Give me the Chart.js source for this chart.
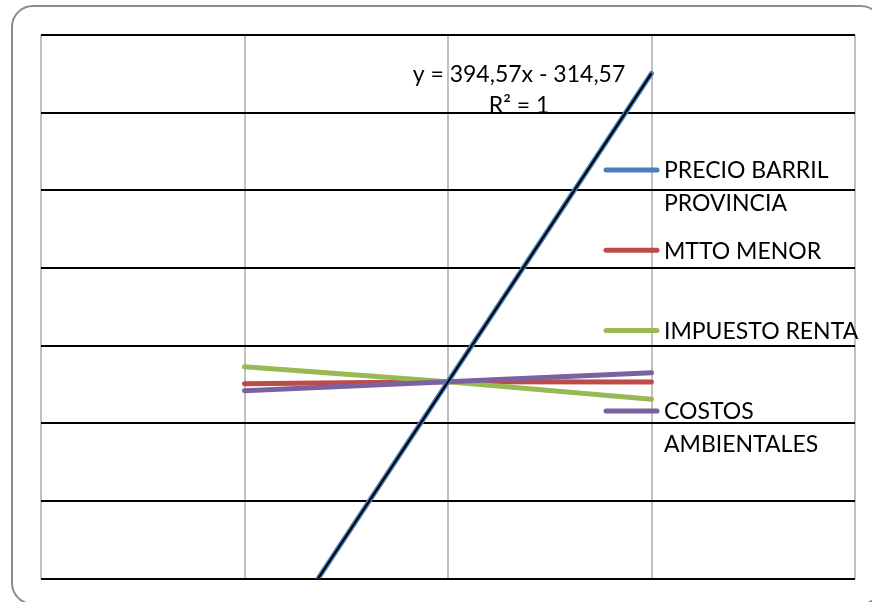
<!DOCTYPE html>
<html>
<head>
<meta charset="utf-8">
<script src="https://cdn.jsdelivr.net/npm/chart.js@4.4.1/dist/chart.umd.min.js"></script>
<style>
  html, body { margin: 0; padding: 0; background: #ffffff; overflow: hidden; }
  #wrap { position: relative; width: 872px; height: 602px; overflow: hidden; }
  #frame {
    position: absolute; left: 11px; top: 5px; width: 872px; height: 600px;
    border: 2px solid #8c8c8c; border-radius: 22px; box-sizing: border-box;
  }
  #c { position: absolute; left: 0; top: 0; }
</style>
</head>
<body>
<div id="wrap">
  <div id="frame"></div>
  <canvas id="c" width="872" height="602"></canvas>
</div>
<script>
// Sensitivity points: low / base / high scenario
const scenarioSteps = [1, 2, 3];

const seriesNames = ['PRECIO BARRIL PROVINCIA', 'MTTO MENOR', 'IMPUESTO RENTA', 'COSTOS AMBIENTALES'];
const legendLines = [['PRECIO BARRIL', 'PROVINCIA'], ['MTTO MENOR'], ['IMPUESTO RENTA'], ['COSTOS', 'AMBIENTALES']];
const seriesColors = ['#4a7ebb', '#be4b48', '#98b954', '#7d60a0'];

const precioBarril      = [80, 474.57, 869.14];
const mttoMenor         = [472.0, 474.57, 474.2];
const impuestoRenta     = [493.8, 474.57, 452.1];
const costosAmbientales = [463.1, 474.57, 486.1];

// Linear trendline fitted on PRECIO BARRIL PROVINCIA
const trendSlope = 394.57;
const trendIntercept = -314.57;
const trendR2 = 1;

// Axis range (labels hidden)
const xRange = [0, 4];
const yRange = [222.8, 918.2];

const seriesValues = [precioBarril, mttoMenor, impuestoRenta, costosAmbientales];

function toPoints(values) {
  return values.map((v, i) => ({ x: scenarioSteps[i], y: v }));
}

const trendPoints = [scenarioSteps[0], scenarioSteps[scenarioSteps.length - 1]]
  .map(x => ({ x: x, y: trendSlope * x + trendIntercept }));

const fmt = n => Math.abs(n).toFixed(2).replace('.', ',');
const equationText = 'y = ' + fmt(trendSlope) + 'x ' + (trendIntercept < 0 ? '- ' : '+ ') + fmt(trendIntercept);
const r2Text = 'R² = ' + trendR2;

const drawOrder = [1, 4, 3, 2];

const datasets = seriesValues.map((vals, i) => ({
  label: seriesNames[i],
  data: toPoints(vals),
  showLine: true,
  borderColor: seriesColors[i],
  backgroundColor: seriesColors[i],
  borderWidth: 5,
  borderCapStyle: 'round',
  borderJoinStyle: 'round',
  pointRadius: 0,
  pointHoverRadius: 0,
  tension: 0,
  order: drawOrder[i]
}));

datasets.push({
  label: 'trend',
  data: trendPoints,
  showLine: true,
  borderColor: '#000000',
  borderWidth: 2,
  pointRadius: 0,
  pointHoverRadius: 0,
  order: 0
});

const FONT = '23px Lato, "Open Sans", sans-serif';

// Equation label and side legend
const annotations = {
  id: 'annotations',
  afterDatasetsDraw(chart) {
    const ctx = chart.ctx;
    ctx.save();
    ctx.font = FONT;
    ctx.fillStyle = '#000000';
    ctx.textBaseline = 'alphabetic';

    ctx.textAlign = 'center';
    ctx.fillText(equationText, 519, 81.5);
    ctx.fillText(r2Text, 519, 112.5);

    ctx.textAlign = 'left';
    const legendTop = 170, legendStep = 80.3, lineH = 32.7;
    legendLines.forEach((lines, i) => {
      const y = legendTop + i * legendStep;
      ctx.strokeStyle = seriesColors[i];
      ctx.lineWidth = 5;
      ctx.lineCap = 'round';
      ctx.beginPath();
      ctx.moveTo(606, y);
      ctx.lineTo(657, y);
      ctx.stroke();
      lines.forEach((t, k) => {
        ctx.fillText(t, 664, y + 8.3 + k * lineH);
      });
    });
    ctx.restore();
  }
};

new Chart(document.getElementById('c'), {
  type: 'scatter',
  data: { datasets: datasets },
  options: {
    responsive: false,
    animation: false,
    devicePixelRatio: 1,
    layout: { padding: { left: 41, top: 35, right: 17, bottom: 23.5 } },
    plugins: { legend: { display: false }, tooltip: { enabled: false } },
    scales: {
      x: {
        type: 'linear',
        min: xRange[0], max: xRange[1],
        ticks: { display: false, stepSize: 1 },
        grid: { color: '#c0c0c0', lineWidth: 2, drawTicks: false },
        border: { display: false }
      },
      y: {
        type: 'linear',
        min: yRange[0], max: yRange[1],
        ticks: { display: false, count: 8 },
        grid: { color: '#000000', lineWidth: 2, drawTicks: false },
        border: { display: false }
      }
    }
  },
  plugins: [annotations]
});
</script>
</body>
</html>
